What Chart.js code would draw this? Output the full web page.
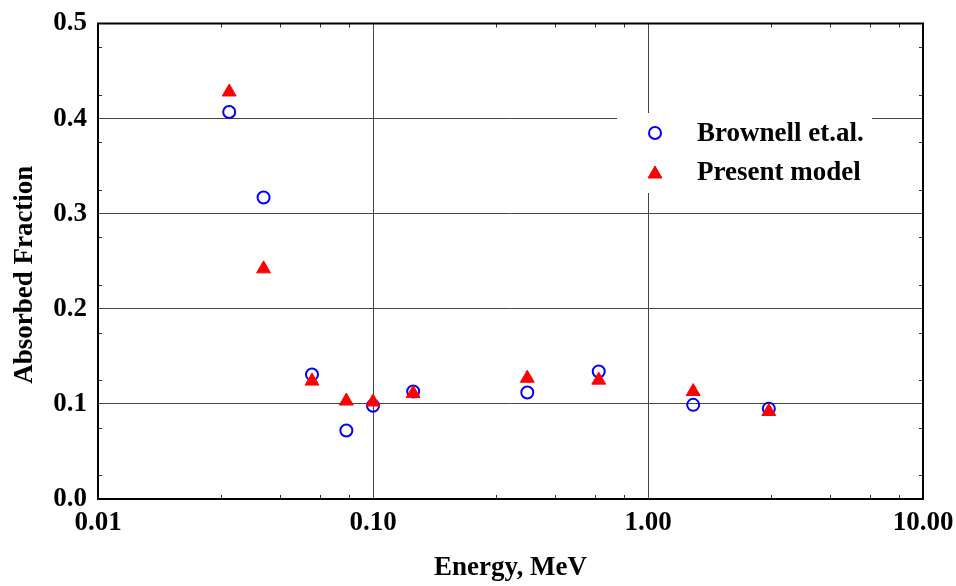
<!DOCTYPE html>
<html>
<head>
<meta charset="utf-8">
<script src="https://cdn.jsdelivr.net/npm/chart.js@4/dist/chart.umd.min.js"></script>
<style>
  html, body { margin: 0; padding: 0; background: #fff; }
  #wrap { width: 956px; height: 586px; position: relative; }
</style>
</head>
<body>
<div id="wrap"><canvas id="fractionChart"></canvas></div>
<script>
// ── DATA ──
const energies     = [0.03, 0.04, 0.06, 0.08, 0.10, 0.14, 0.364, 0.662, 1.46, 2.75];
const brownell     = [0.407, 0.317, 0.131, 0.072, 0.098, 0.113, 0.112, 0.134, 0.099, 0.095];
const presentModel = [0.428, 0.242, 0.124, 0.103, 0.102, 0.111, 0.127, 0.125, 0.113, 0.092];

const xMajorTicks = [0.01, 0.1, 1, 10];
const xMinorSteps = [2.8, 4.6, 6.4, 8.2];
const yTicks      = [0, 0.1, 0.2, 0.3, 0.4, 0.5];
const seriesNames = ['Brownell et.al.', 'Present model'];

const FONT = 'Liberation Serif, "Times New Roman", serif';

function toPoints(values) {
  return energies.map((e, i) => ({ x: e, y: values[i] }));
}

// ── FRAME, MINOR TICKS, LEGEND ──
const framePlugin = {
  id: 'frame',
  afterDatasetsDraw(chart) {
    const { ctx, chartArea: a, scales } = chart;
    ctx.save();

    // minor ticks, pointing inward
    ctx.strokeStyle = '#333';
    ctx.lineWidth = 1;
    ctx.beginPath();
    for (let d = 0; d < xMajorTicks.length - 1; d++) {
      xMinorSteps.forEach(m => {
        const px = Math.round(scales.x.getPixelForValue(xMajorTicks[d] * m)) + 0.5;
        ctx.moveTo(px, a.bottom); ctx.lineTo(px, a.bottom - 4);
        ctx.moveTo(px, a.top);    ctx.lineTo(px, a.top + 4);
      });
    }
    for (let v = 0.025; v < 0.5; v += 0.05) {
      const py = Math.round(scales.y.getPixelForValue(v)) + 0.5;
      ctx.moveTo(a.left, py);  ctx.lineTo(a.left + 4, py);
      ctx.moveTo(a.right, py); ctx.lineTo(a.right - 4, py);
    }
    ctx.stroke();

    // legend box sits on top of the grid
    ctx.fillStyle = '#fff';
    ctx.fillRect(617, 113, 255, 80);

    const rows = [
      { ds: chart.data.datasets[1], y: 133 },
      { ds: chart.data.datasets[0], y: 174 }
    ];
    rows.forEach(r => {
      ctx.fillStyle = r.ds.backgroundColor;
      ctx.strokeStyle = r.ds.borderColor;
      ctx.lineWidth = r.ds.borderWidth;
      Chart.helpers.drawPoint(ctx, {
        pointStyle: r.ds.pointStyle,
        radius: r.ds.pointRadius,
        borderWidth: r.ds.borderWidth,
        rotation: 0
      }, 655, r.y);
      ctx.fill();
    });

    ctx.fillStyle = '#000';
    ctx.font = 'bold 27px ' + FONT;
    ctx.textBaseline = 'middle';
    ctx.textAlign = 'left';
    ctx.fillText(seriesNames[0], 697, 134);
    ctx.fillText(seriesNames[1], 697, 173);

    // outer frame
    ctx.strokeStyle = '#000';
    ctx.lineWidth = 2;
    ctx.strokeRect(a.left, a.top, a.right - a.left, a.bottom - a.top);
    ctx.restore();
  }
};

// ── CHART ──
const ctx = document.getElementById('fractionChart').getContext('2d');

new Chart(ctx, {
  type: 'scatter',
  data: {
    datasets: [
      {
        label: seriesNames[1],
        data: toPoints(presentModel),
        pointStyle: 'triangle',
        pointRadius: 8,
        pointHoverRadius: 8,
        backgroundColor: '#ff0000',
        borderColor: '#ff0000',
        borderWidth: 1,
        order: 0
      },
      {
        label: seriesNames[0],
        data: toPoints(brownell),
        pointStyle: 'circle',
        pointRadius: 6,
        pointHoverRadius: 6,
        backgroundColor: 'rgba(255,255,255,0)',
        borderColor: '#0000ff',
        borderWidth: 2,
        order: 1
      }
    ]
  },
  options: {
    responsive: true,
    maintainAspectRatio: false,
    animation: false,
    layout: { padding: { top: 23.5, right: 33, left: 0, bottom: 0 } },
    plugins: {
      legend: { display: false },
      tooltip: { enabled: false }
    },
    scales: {
      x: {
        type: 'logarithmic',
        min: 0.01,
        max: 10,
        afterBuildTicks: s => { s.ticks = xMajorTicks.map(v => ({ value: v })); },
        afterFit: s => { s.height = 87; s.paddingLeft = 0; s.paddingRight = 0; },
        ticks: {
          autoSkip: false,
          maxRotation: 0,
          padding: 8,
          color: '#000',
          font: { family: FONT, size: 27, weight: 'bold' },
          callback: v => Number(v).toFixed(2)
        },
        grid: { color: '#444', lineWidth: 1, drawTicks: false },
        border: { display: false },
        title: {
          display: true,
          text: 'Energy, MeV',
          color: '#000',
          font: { family: FONT, size: 27, weight: 'bold' },
          padding: { top: 0, bottom: 2 }
        }
      },
      y: {
        min: 0,
        max: 0.5,
        afterBuildTicks: s => { s.ticks = yTicks.map(v => ({ value: v })); },
        afterFit: s => { s.width = 98; s.paddingTop = 0; s.paddingBottom = 0; },
        ticks: {
          padding: 11,
          color: '#000',
          font: { family: FONT, size: 27, weight: 'bold' },
          callback: v => Number(v).toFixed(1)
        },
        grid: { color: '#444', lineWidth: 1, drawTicks: false },
        border: { display: false },
        title: {
          display: true,
          text: 'Absorbed Fraction    ',
          color: '#000',
          font: { family: FONT, size: 27, weight: 'bold' },
          padding: { top: 9, bottom: 0 }
        }
      }
    }
  },
  plugins: [framePlugin]
});
</script>
</body>
</html>
